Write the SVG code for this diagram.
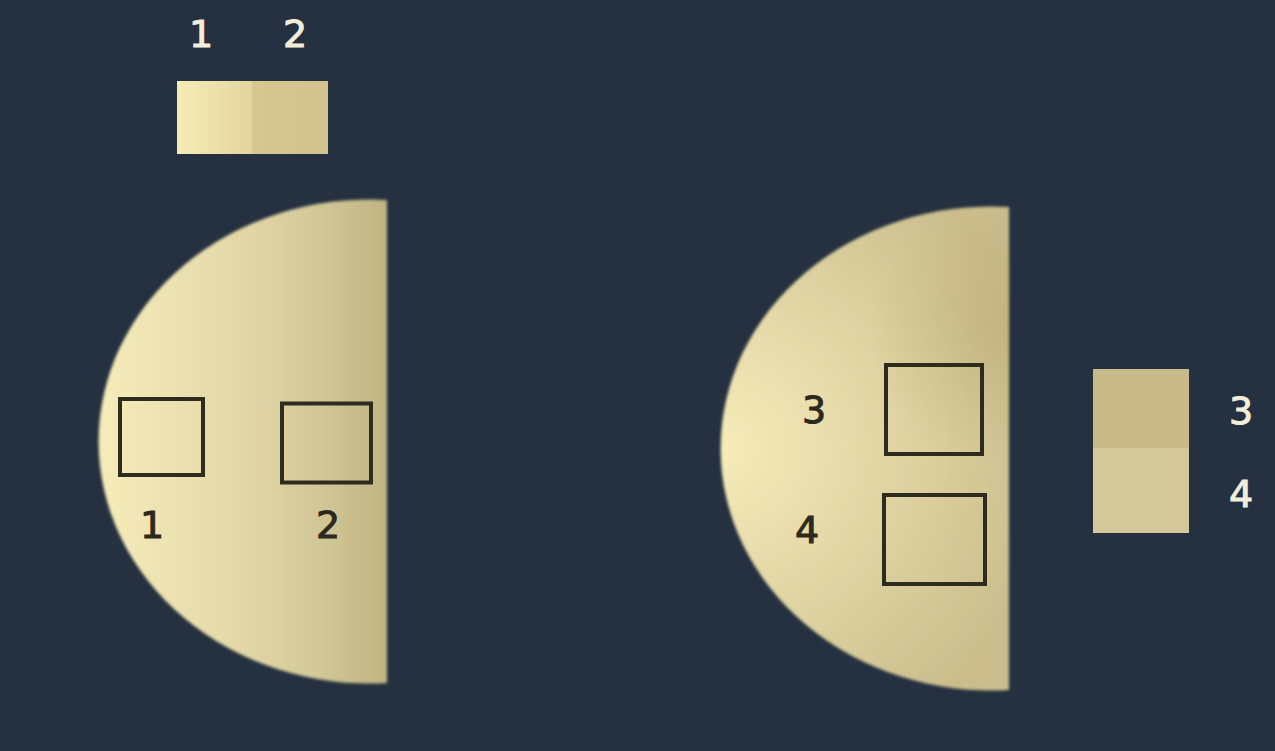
<svg xmlns="http://www.w3.org/2000/svg" width="1275" height="751" viewBox="0 0 1275 751">
<style>
.lt{font-family:"DejaVu Sans",sans-serif;font-size:38px;fill:#f3eed9;stroke:#f3eed9;stroke-width:1;text-anchor:middle}
.dk{font-family:"DejaVu Sans",sans-serif;font-size:38px;fill:#2c2a20;stroke:#2c2a20;stroke-width:1;text-anchor:middle}
.box{fill:none;stroke:#2e2b1f;stroke-width:4}
</style>
<defs>
<path id="disk" d="M387,200 A271,242 0 1 0 387,683 Z"/>
<linearGradient id="gL" gradientUnits="userSpaceOnUse" x1="101" y1="0" x2="387" y2="0">
<stop offset="0" stop-color="#f6ecba"/>
<stop offset="0.5" stop-color="#e2d7a6"/>
<stop offset="0.75" stop-color="#d3c897"/>
<stop offset="1" stop-color="#c1b483"/>
</linearGradient>
<radialGradient id="gR" gradientUnits="userSpaceOnUse" cx="100" cy="441" r="330">
<stop offset="0" stop-color="#f6ecba"/>
<stop offset="0.5" stop-color="#e0d5a3"/>
<stop offset="1" stop-color="#cbbd8c"/>
</radialGradient>
<radialGradient id="gRd" gradientUnits="userSpaceOnUse" cx="378" cy="323" r="130">
<stop offset="0" stop-color="#a8995f" stop-opacity="0.3"/>
<stop offset="1" stop-color="#a8995f" stop-opacity="0"/>
</radialGradient>
<linearGradient id="g1" x1="0" y1="0" x2="1" y2="0">
<stop offset="0" stop-color="#f6ebb6"/>
<stop offset="1" stop-color="#e4d59e"/>
</linearGradient>
<linearGradient id="g2" x1="0" y1="0" x2="1" y2="0">
<stop offset="0" stop-color="#d6c78f"/>
<stop offset="1" stop-color="#d2c38f"/>
</linearGradient>
<filter id="blur" x="-5%" y="-5%" width="110%" height="110%"><feGaussianBlur stdDeviation="1.6"/></filter>
</defs>
<rect width="1275" height="751" fill="#253140"/>
<g id="left-disk">
<use href="#disk" fill="url(#gL)" filter="url(#blur)"/>
<rect class="box" x="120" y="399" width="83" height="76"/>
<rect class="box" x="282" y="403.5" width="89" height="79" stroke-width="6"/>
<text class="dk" x="152" y="538">1</text>
<text class="dk" x="328" y="538">2</text>
</g>
<g id="top-sample">
<rect x="177" y="81" width="75" height="73" fill="url(#g1)"/>
<rect x="252" y="81" width="76" height="73" fill="url(#g2)"/>
<text class="lt" x="201" y="47">1</text>
<text class="lt" x="295" y="47">2</text>
</g>
<g id="right-disk">
<g transform="translate(622,7)">
<use href="#disk" fill="url(#gR)" filter="url(#blur)"/>
<use href="#disk" fill="url(#gRd)"/>
</g>
<rect class="box" x="886" y="365" width="96" height="89"/>
<rect class="box" x="884" y="495" width="101" height="89"/>
<text class="dk" x="814" y="423">3</text>
<text class="dk" x="807" y="543">4</text>
</g>
<g id="right-sample">
<rect x="1093" y="369" width="96" height="79" fill="#c9ba89"/>
<rect x="1093" y="448" width="96" height="85" fill="#d6c999"/>
<text class="lt" x="1241" y="424">3</text>
<text class="lt" x="1241" y="507">4</text>
</g>
<g id="connectors"/>
</svg>
